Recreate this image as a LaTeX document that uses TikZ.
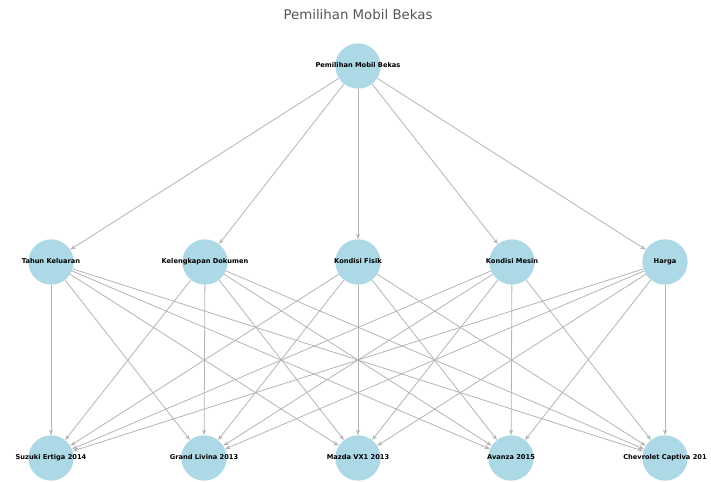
\documentclass[tikz,border=0pt]{standalone}
\usepackage{fontspec}
\setmainfont{DejaVu Sans}
\usepackage{xcolor}
\usetikzlibrary{arrows.meta, backgrounds}

\definecolor{nodeblue}{HTML}{ADD8E6}
\definecolor{edgegray}{HTML}{B4B4B4}
\definecolor{titlegray}{HTML}{555555}

\begin{document}
\begin{tikzpicture}[
  x=0.75pt, y=-0.75pt,
  every node/.style={font=\fontsize{5}{6}\selectfont\bfseries},
  every label/.style={text height=3.6pt, text depth=1pt, inner sep=0pt},
  mobil/.style={circle, fill=nodeblue, draw=none, minimum size=34pt,
                inner sep=0pt},
  arr/.style={-{Stealth[length=4pt, width=3pt]}, edgegray, line width=0.6pt},
]
  \useasboundingbox (0,0) rectangle (711,482);

  % Title
  \node[font=\fontsize{10}{12}\selectfont, text=titlegray] (title) at (358,15)
        {Pemilihan Mobil Bekas};

  % Goal
  \node[mobil, label=center:{Pemilihan Mobil Bekas}] (goal) at (358,66) {};

  % Criteria
  \node[mobil, label=center:{Tahun Keluaran}]       (tahun)   at (51,262)  {};
  \node[mobil, label=center:{Kelengkapan Dokumen}]  (dokumen) at (205,262) {};
  \node[mobil, label=center:{Kondisi Fisik}]        (fisik)   at (358,262) {};
  \node[mobil, label=center:{Kondisi Mesin}]        (mesin)   at (512,262) {};
  \node[mobil, label=center:{Harga}]                (harga)   at (665,262) {};

  % Alternatives
  \node[mobil, label=center:{Suzuki Ertiga 2014}]    (ertiga)  at (51,458)  {};
  \node[mobil, label=center:{Grand Livina 2013}]     (livina)  at (204,458) {};
  \node[mobil, label=center:{Mazda VX1 2013}]        (mazda)   at (358,458) {};
  \node[mobil, label=center:{Avanza 2015}]           (avanza)  at (511,458) {};
  \node[mobil, label=center:{Chevrolet Captiva 201}] (captiva) at (665,458) {};

  \begin{scope}[on background layer]
    % Goal to criteria
    \foreach \b in {tahun, dokumen, fisik, mesin, harga}
      \draw[arr] (goal) -- (\b);

    % Criteria to alternatives
    \foreach \a in {tahun, dokumen, fisik, mesin, harga}
      \foreach \b in {ertiga, livina, mazda, avanza, captiva}
        \draw[arr] (\a) -- (\b);
  \end{scope}

\end{tikzpicture}
\end{document}
